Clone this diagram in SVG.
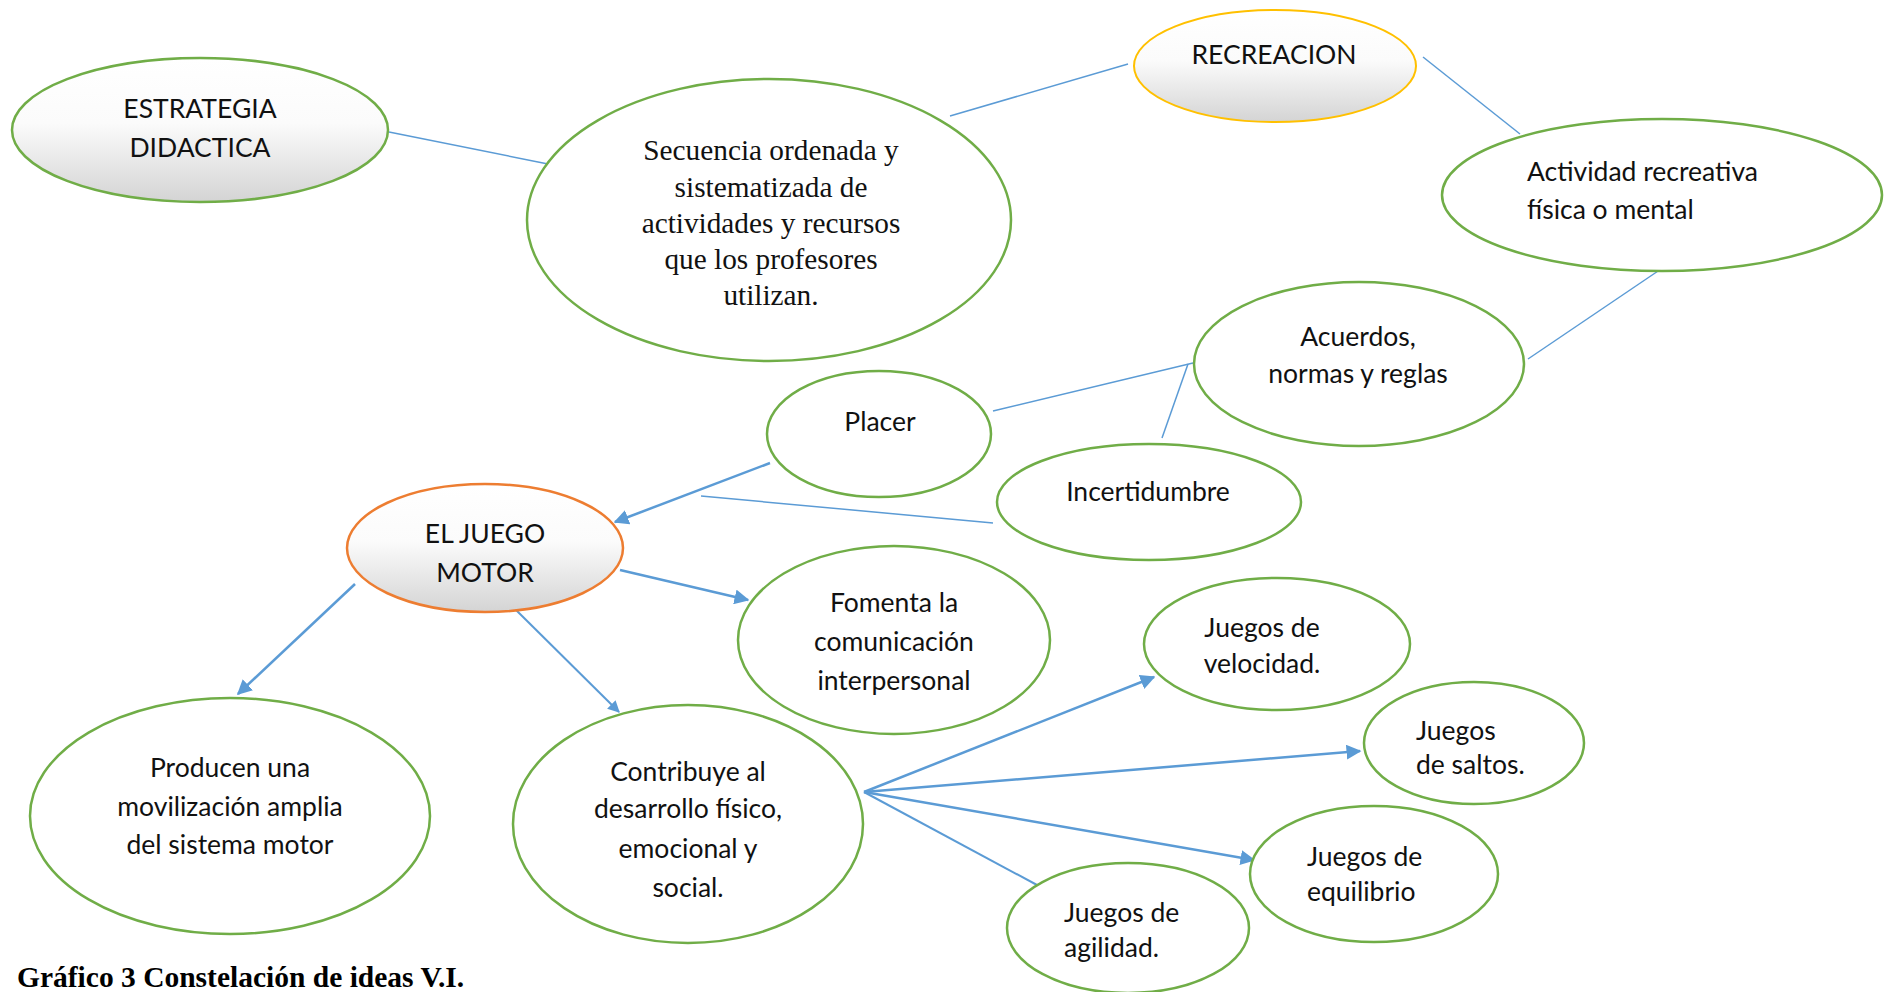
<svg xmlns="http://www.w3.org/2000/svg" width="1889" height="992" viewBox="0 0 1889 992">
<style>
.n{fill:#fff;stroke:#70AD47;stroke-width:2.5}
.g{fill:url(#gr)}
.t{font-family:Lato,"Open Sans","Liberation Sans",sans-serif;font-size:26.5px;fill:#111;text-anchor:middle}
.l{text-anchor:start}
.s{font-family:"Liberation Serif","Times New Roman",serif;font-size:29.3px;fill:#111;text-anchor:middle}
.c{stroke:#5B9BD5;stroke-width:1.5;fill:none}
.a{stroke:#5B9BD5;stroke-width:2.5;fill:none;marker-end:url(#ar)}
</style>
<defs>
<linearGradient id="gr" x1="0" y1="0" x2="0" y2="1">
<stop offset="0" stop-color="#fff"/>
<stop offset="0.45" stop-color="#fbfbfb"/>
<stop offset="1" stop-color="#d4d4d4"/>
</linearGradient>
<marker id="ar" viewBox="0 0 10 10" refX="9" refY="5" markerWidth="6" markerHeight="6" orient="auto" markerUnits="strokeWidth">
<path d="M0,0 L10,5 L0,10 z" fill="#5B9BD5"/>
</marker>
</defs>
<rect width="1889" height="992" fill="#fff"/>
<g id="connectors">
<line class="c" x1="389" y1="132" x2="548" y2="164"/>
<line class="c" x1="950" y1="116" x2="1128" y2="64"/>
<line class="c" x1="1423" y1="57" x2="1520" y2="134"/>
<line class="c" x1="1664" y1="267" x2="1528" y2="359"/>
<line class="c" x1="1193" y1="363" x2="993" y2="411"/>
<line class="c" x1="1188" y1="364" x2="1162" y2="438"/>
<line class="c" x1="993" y1="523" x2="701" y2="496"/>
<line class="a" x1="770" y1="463" x2="615" y2="522"/>
<line class="a" x1="620" y1="570" x2="748" y2="600"/>
<line class="a" x1="355" y1="584" x2="238" y2="694"/>
<line class="a" x1="514" y1="608" x2="619" y2="712" style="stroke-width:2"/>
<line class="a" x1="864" y1="792" x2="1154" y2="677"/>
<line class="a" x1="864" y1="792" x2="1360" y2="751"/>
<line class="a" x1="864" y1="792" x2="1254" y2="860"/>
<line class="c" x1="864" y1="792" x2="1037" y2="885" style="stroke-width:2"/>
</g>
<g id="estrategia">
<ellipse class="n g" cx="200" cy="130" rx="188" ry="72"/>
<text class="t" x="200" y="118">ESTRATEGIA</text>
<text class="t" x="200" y="157">DIDACTICA</text>
</g>
<g id="secuencia">
<ellipse class="n" cx="769" cy="220" rx="242" ry="141"/>
<text class="s" x="771" y="160">Secuencia ordenada y</text>
<text class="s" x="771" y="197">sistematizada de</text>
<text class="s" x="771" y="233">actividades y recursos</text>
<text class="s" x="771" y="269">que los profesores</text>
<text class="s" x="771" y="305">utilizan.</text>
</g>
<g id="recreacion">
<ellipse class="g" cx="1275" cy="66" rx="141" ry="56" style="stroke:#FFC000;stroke-width:2"/>
<text class="t" x="1274" y="64">RECREACION</text>
</g>
<g id="actividad">
<ellipse class="n" cx="1662" cy="195" rx="220" ry="76"/>
<text class="t l" x="1527" y="181">Actividad recreativa</text>
<text class="t l" x="1527" y="219">física o mental</text>
</g>
<g id="acuerdos">
<ellipse class="n" cx="1359" cy="364" rx="165" ry="82"/>
<text class="t" x="1358" y="346">Acuerdos,</text>
<text class="t" x="1358" y="383">normas y reglas</text>
</g>
<g id="placer">
<ellipse class="n" cx="879" cy="434" rx="112" ry="63"/>
<text class="t" x="880" y="431">Placer</text>
</g>
<g id="incertidumbre">
<ellipse class="n" cx="1149" cy="502" rx="152" ry="58"/>
<text class="t" x="1148" y="501">Incertidumbre</text>
</g>
<g id="juego">
<ellipse class="g" cx="485" cy="548" rx="138" ry="64" style="stroke:#ED7D31;stroke-width:2.5"/>
<text class="t" x="485" y="543">EL JUEGO</text>
<text class="t" x="485" y="582">MOTOR</text>
</g>
<g id="fomenta">
<ellipse class="n" cx="894" cy="640" rx="156" ry="94"/>
<text class="t" x="894" y="612">Fomenta la</text>
<text class="t" x="894" y="651">comunicación</text>
<text class="t" x="894" y="690">interpersonal</text>
</g>
<g id="velocidad">
<ellipse class="n" cx="1277" cy="644" rx="133" ry="66"/>
<text class="t" x="1262" y="637">Juegos de</text>
<text class="t" x="1262" y="673">velocidad.</text>
</g>
<g id="saltos">
<ellipse class="n" cx="1474" cy="743" rx="110" ry="61"/>
<text class="t l" x="1416" y="740">Juegos</text>
<text class="t l" x="1416" y="774">de saltos.</text>
</g>
<g id="equilibrio">
<ellipse class="n" cx="1374" cy="874" rx="124" ry="68"/>
<text class="t l" x="1307" y="866">Juegos de</text>
<text class="t l" x="1307" y="901">equilibrio</text>
</g>
<g id="agilidad">
<ellipse class="n" cx="1128" cy="928" rx="121" ry="65"/>
<text class="t l" x="1064" y="922">Juegos de</text>
<text class="t l" x="1064" y="957">agilidad.</text>
</g>
<g id="contribuye">
<ellipse class="n" cx="688" cy="824" rx="175" ry="119"/>
<text class="t" x="688" y="781">Contribuye  al</text>
<text class="t" x="688" y="818">desarrollo físico,</text>
<text class="t" x="688" y="858">emocional y</text>
<text class="t" x="688" y="897">social.</text>
</g>
<g id="producen">
<ellipse class="n" cx="230" cy="816" rx="200" ry="118"/>
<text class="t" x="230" y="777">Producen una</text>
<text class="t" x="230" y="816">movilización amplia</text>
<text class="t" x="230" y="854">del sistema motor</text>
</g>
<text x="17" y="987" style="font-family:'Liberation Serif','Times New Roman',serif;font-size:29.5px;font-weight:bold;fill:#000">Gráfico 3 Constelación de ideas V.I.</text>
</svg>
